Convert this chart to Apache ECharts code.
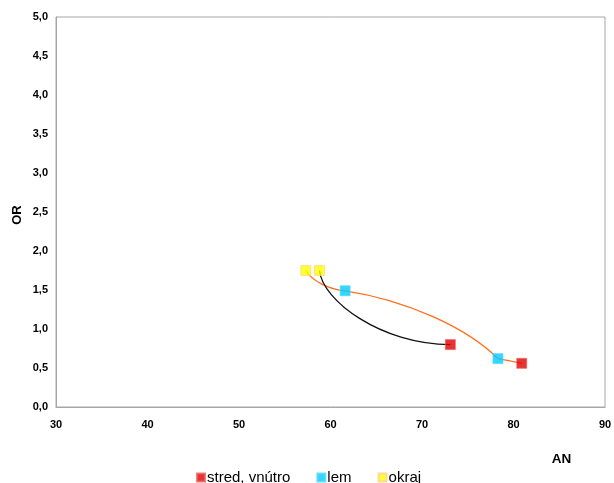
<!DOCTYPE html>
<html>
<head>
<meta charset="utf-8">
<script src="https://cdn.jsdelivr.net/npm/echarts@6/dist/echarts.min.js"></script>
<style>
  html, body { margin: 0; padding: 0; background: #fff; }
  #chart { width: 614px; height: 483px; }
</style>
</head>
<body>
<div id="chart"></div>
<script>
// Group names shown in the legend
const groupNames = ['stred, vnútro', 'lem', 'okraj'];

// AN / OR values per group
const stredAN = [73.1, 80.9];
const stredOR = [0.80, 0.56];
const lemAN = [61.6, 78.3];
const lemOR = [1.49, 0.62];
const okrajAN = [57.3, 58.8];
const okrajOR = [1.75, 1.75];

// Axis tick values
const xTicks = [30, 40, 50, 60, 70, 80, 90];
const yTicks = [0, 0.5, 1, 1.5, 2, 2.5, 3, 3.5, 4, 4.5, 5];

const pairs = (xs, ys) => xs.map((x, i) => [x, ys[i]]);

// Orange trend: okraj -> lem -> lem -> stred (flattened x,y pairs)
const orangePath = [[
  okrajAN[0], okrajOR[0],
  lemAN[0], lemOR[0],
  lemAN[1], lemOR[1],
  stredAN[1], stredOR[1]
]];
// Black curve: okraj -> stred
const blackPath = [[okrajAN[1], okrajOR[1], stredAN[0], stredOR[0]]];

const FONT = '"Liberation Sans", Arial, sans-serif';
const labelFont = { fontFamily: FONT, fontSize: 11, fontWeight: 'bold', color: '#000' };

// Curve shaping for each orange segment: [cp1 dx, cp1 dy, cp2 dx, cp2 dy] as fractions of the segment
const orangeShape = [
  [0.15, 0.50, 0.40, 0.05],
  [0.40, 0.135, 0.20, 0.45],
  [0.33, 0.33, 0.33, 0.33]
];

const chart = echarts.init(document.getElementById('chart'), null, { renderer: 'canvas' });

function markerSeries(name, data, fill, edge) {
  return {
    name: name,
    type: 'scatter',
    data: data,
    symbol: 'rect',
    symbolSize: 10,
    z: 5,
    itemStyle: { color: fill, borderColor: edge, borderWidth: 0.8 }
  };
}

chart.setOption({
  animation: false,
  backgroundColor: '#fff',
  grid: {
    left: 56, right: 9, top: 17, bottom: 76,
    outerBoundsMode: 'none',
    containLabel: false,
    show: true, borderColor: '#a6a6a6', borderWidth: 1
  },
  xAxis: {
    type: 'value',
    min: xTicks[0], max: xTicks[xTicks.length - 1], interval: 10,
    axisLine: { show: true, lineStyle: { color: '#a6a6a6' } },
    axisTick: { show: false },
    splitLine: { show: false },
    axisLabel: Object.assign({ margin: 12 }, labelFont)
  },
  yAxis: {
    type: 'value',
    min: yTicks[0], max: yTicks[yTicks.length - 1], interval: 0.5,
    axisLine: { show: true, lineStyle: { color: '#a6a6a6' } },
    axisTick: { show: false },
    splitLine: { show: false },
    axisLabel: Object.assign({ margin: 8, formatter: v => v.toFixed(1).replace('.', ',') }, labelFont)
  },
  legend: {
    data: groupNames,
    left: 191,
    top: 465,
    icon: 'rect',
    itemWidth: 8,
    itemHeight: 8,
    itemGap: 26,
    textStyle: { fontFamily: FONT, fontSize: 15, color: '#000', padding: [0, 0, 0, -3] }
  },
  graphic: [
    {
      type: 'text',
      x: 17, y: 215,
      rotation: Math.PI / 2,
      style: { text: 'OR', font: 'bold 13px ' + FONT, fill: '#000', align: 'center', verticalAlign: 'middle' }
    },
    {
      type: 'text',
      x: 561.5, y: 459,
      style: { text: 'AN', font: 'bold 13.5px ' + FONT, fill: '#000', align: 'center', verticalAlign: 'middle' }
    }
  ],
  series: [
    {
      type: 'custom',
      data: orangePath,
      z: 3,
      silent: true,
      renderItem: function (params, api) {
        const pts = [0, 1, 2, 3].map(i => api.coord([api.value(2 * i), api.value(2 * i + 1)]));
        let d = 'M' + pts[0][0] + ' ' + pts[0][1];
        for (let i = 0; i < pts.length - 1; i++) {
          const a = pts[i], b = pts[i + 1];
          const dx = b[0] - a[0], dy = b[1] - a[1];
          const s = orangeShape[i];
          d += ' C' + (a[0] + s[0] * dx) + ' ' + (a[1] + s[1] * dy) + ' ' +
               (b[0] - s[2] * dx) + ' ' + (b[1] - s[3] * dy) + ' ' + b[0] + ' ' + b[1];
        }
        return {
          type: 'path',
          shape: { pathData: d },
          style: { stroke: '#ff6f1a', lineWidth: 1.3, fill: null }
        };
      }
    },
    {
      type: 'custom',
      data: blackPath,
      z: 3,
      silent: true,
      renderItem: function (params, api) {
        const p0 = api.coord([api.value(0), api.value(1)]);
        const p3 = api.coord([api.value(2), api.value(3)]);
        const dx = p3[0] - p0[0], dy = p3[1] - p0[1];
        return {
          type: 'bezierCurve',
          shape: {
            x1: p0[0], y1: p0[1], x2: p3[0], y2: p3[1],
            cpx1: p0[0] + 0.02 * dx, cpy1: p0[1] + 0.4 * dy,
            cpx2: p0[0] + 0.47 * dx, cpy2: p3[1]
          },
          style: { stroke: '#111', lineWidth: 1.3, fill: null }
        };
      }
    },
    markerSeries(groupNames[0], pairs(stredAN, stredOR), '#e00000', '#ee6060'),
    markerSeries(groupNames[1], pairs(lemAN, lemOR), '#00ccff', '#50d8ff'),
    markerSeries(groupNames[2], pairs(okrajAN, okrajOR), '#ffff00', '#ffd090')
  ]
});
</script>
</body>
</html>
